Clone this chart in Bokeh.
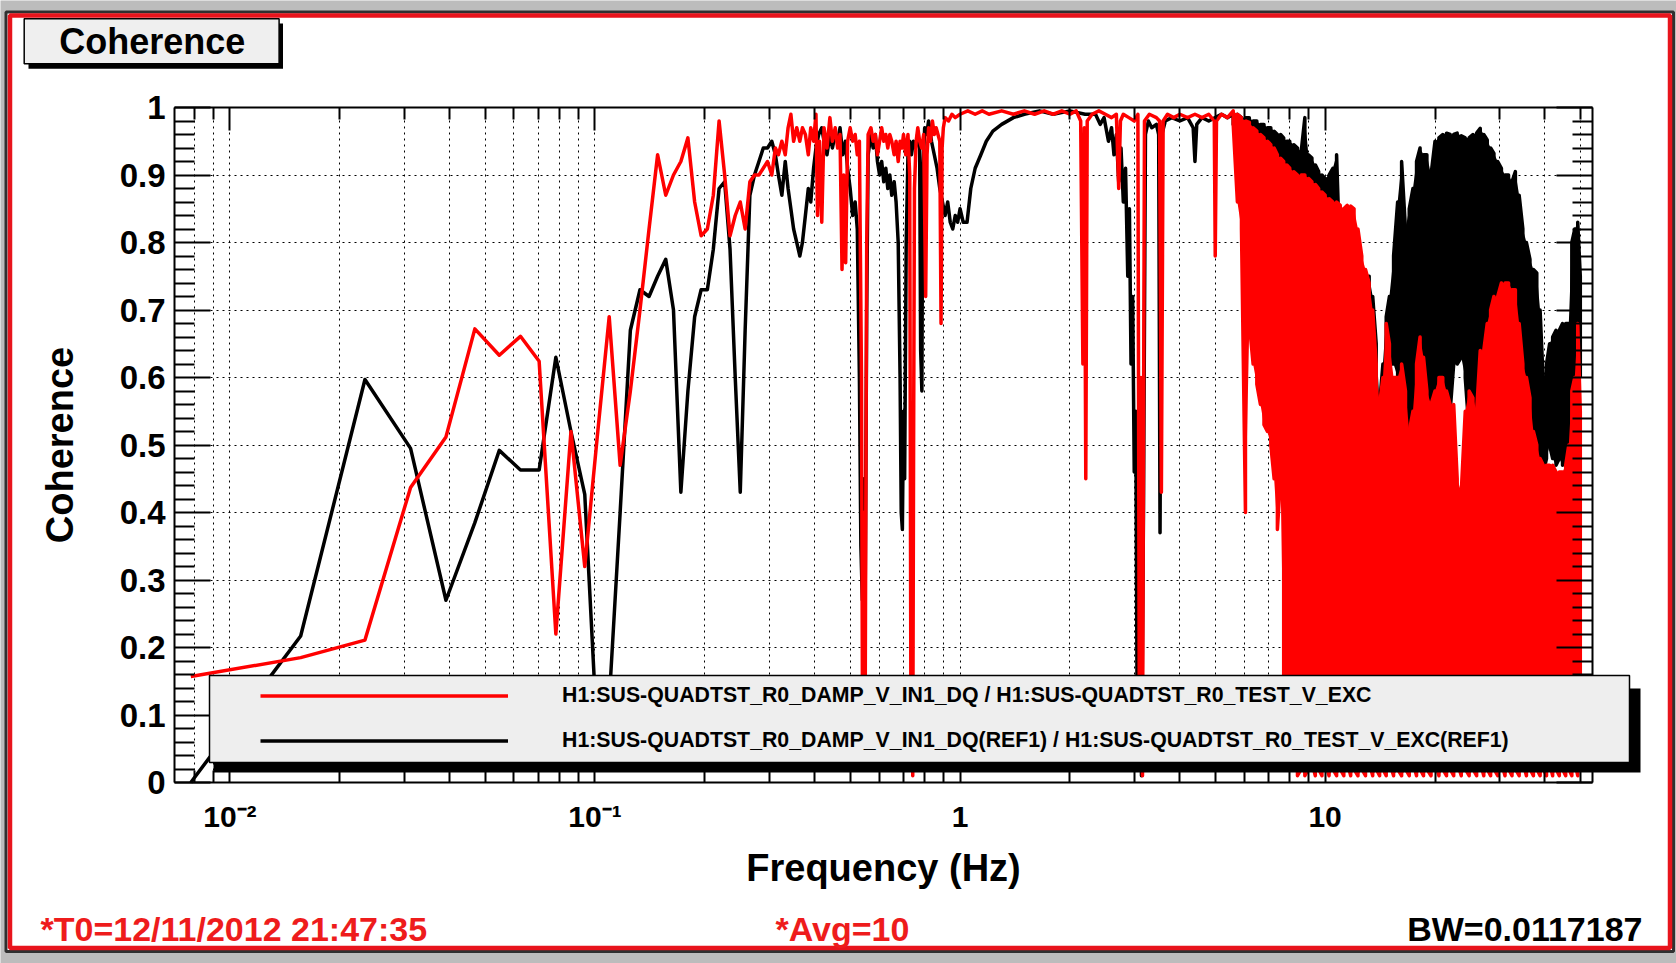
import math
from bokeh.plotting import figure
from bokeh.models import (Range1d, FixedTicker, LogAxis, LinearAxis, Label, Grid,
                          BoxAnnotation, Legend, LegendItem, CustomJSTickFormatter)
from bokeh.embed import file_html
from bokeh.resources import INLINE

# ---------------- data ----------------
# low-frequency bins (DTT grid, df = 1/128 Hz)
lf_f = [0.0078125, 0.015625, 0.0234375, 0.03125, 0.0390625, 0.046875, 0.0546875,
        0.0625, 0.0703125, 0.078125, 0.0859375, 0.09375, 0.1015625, 0.109375,
        0.1171875, 0.125, 0.1328125, 0.140625, 0.1484375, 0.15625, 0.1640625,
        0.171875, 0.1796875, 0.1875, 0.1953125, 0.203125, 0.2109375, 0.21875,
        0.2265625, 0.234375, 0.2421875, 0.25, 0.2578125, 0.265625, 0.2734375,
        0.28125, 0.2890625, 0.296875]
red_lf_c = [0.157, 0.185, 0.211, 0.437, 0.512, 0.672, 0.633, 0.661, 0.624, 0.22,
            0.52, 0.32, 0.515, 0.69, 0.47, 0.58, 0.70, 0.82, 0.93, 0.87, 0.90,
            0.92, 0.955, 0.86, 0.81, 0.82, 0.87, 0.98, 0.90, 0.81, 0.84, 0.86,
            0.82, 0.89, 0.90, 0.90, 0.91, 0.92]
blk_lf_c = [0.0, 0.217, 0.597, 0.495, 0.27, 0.385, 0.492, 0.463, 0.463, 0.63,
            0.52, 0.427, 0.06, 0.12, 0.40, 0.67, 0.73, 0.72, 0.75, 0.775, 0.70,
            0.43, 0.58, 0.69, 0.73, 0.73, 0.79, 0.88, 0.89, 0.79, 0.60, 0.43,
            0.67, 0.87, 0.90, 0.92, 0.94, 0.94]

# mid frequencies
red_mf_f = [0.305, 0.312, 0.318, 0.325, 0.332, 0.338, 0.344, 0.350, 0.357, 0.364,
            0.370, 0.377, 0.384, 0.390, 0.397, 0.403, 0.407, 0.412, 0.418, 0.424,
            0.432, 0.440, 0.447, 0.455, 0.462, 0.469, 0.475, 0.480, 0.486, 0.492,
            0.500, 0.508, 0.516, 0.523, 0.530, 0.537, 0.541, 0.545, 0.549, 0.555,
            0.560, 0.570, 0.578, 0.586, 0.594, 0.602, 0.610, 0.618, 0.626, 0.634,
            0.642, 0.650, 0.660, 0.668, 0.677, 0.685, 0.693, 0.700, 0.710, 0.720,
            0.728, 0.734, 0.738, 0.742, 0.746, 0.750, 0.758, 0.766, 0.775, 0.785,
            0.795, 0.805, 0.812, 0.820, 0.830, 0.840, 0.850, 0.860, 0.870, 0.880,
            0.887, 0.893, 0.900, 0.910, 0.930, 0.950, 0.970, 1.00, 1.05, 1.10,
            1.15, 1.20, 1.30, 1.40, 1.50, 1.60, 1.70, 1.80, 1.90, 2.00,
            2.08, 2.14, 2.17, 2.19, 2.21, 2.23, 2.30, 2.40, 2.50, 2.60,
            2.68, 2.72, 2.75, 2.80, 2.90, 3.00, 3.07, 3.10, 3.13, 3.16,
            3.20, 3.30, 3.45, 3.52, 3.56, 3.60, 3.70, 3.85, 4.00, 4.20,
            4.40, 4.60, 4.80, 4.97, 5.00, 5.04, 5.20, 5.40]
red_mf_c = [0.90, 0.94, 0.93, 0.95, 0.93, 0.97, 0.99, 0.95, 0.97, 0.95,
            0.97, 0.96, 0.93, 0.97, 0.95, 0.99, 0.84, 0.95, 0.83, 0.97,
            0.94, 0.985, 0.95, 0.97, 0.94, 0.96, 0.76, 0.90, 0.77, 0.95,
            0.97, 0.95, 0.96, 0.93, 0.95, 0.60, 0.02, 0.40, 0.03, 0.80,
            0.96, 0.97, 0.95, 0.96, 0.93, 0.95, 0.97, 0.95, 0.96, 0.94,
            0.96, 0.95, 0.93, 0.95, 0.92, 0.95, 0.94, 0.96, 0.93, 0.96,
            0.90, 0.02, 0.30, 0.01, 0.50, 0.88, 0.95, 0.97, 0.95, 0.94,
            0.96, 0.72, 0.93, 0.97, 0.95, 0.98, 0.96, 0.97, 0.96, 0.95,
            0.68, 0.94, 0.97, 0.985, 0.98, 0.99, 0.985, 0.99, 0.995, 0.99,
            0.995, 0.99, 0.995, 0.99, 0.995, 0.99, 0.995, 0.99, 0.995, 0.99,
            0.995, 0.98, 0.62, 0.97, 0.45, 0.98, 0.99, 0.995, 0.99, 0.985,
            0.99, 0.88, 0.98, 0.99, 0.985, 0.98, 0.99, 0.02, 0.60, 0.01,
            0.98, 0.99, 0.985, 0.98, 0.43, 0.98, 0.99, 0.985, 0.99, 0.985,
            0.99, 0.985, 0.99, 0.98, 0.78, 0.98, 0.99, 0.985]

blk_mf_f = [0.305, 0.312, 0.318, 0.325, 0.332, 0.338, 0.344, 0.350, 0.357, 0.364,
            0.370, 0.377, 0.384, 0.390, 0.397, 0.403, 0.410, 0.418, 0.424, 0.432,
            0.440, 0.447, 0.455, 0.462, 0.469, 0.477, 0.485, 0.492, 0.500, 0.508,
            0.516, 0.523, 0.530, 0.535, 0.540, 0.545, 0.550, 0.555, 0.560, 0.570,
            0.578, 0.586, 0.594, 0.602, 0.610, 0.618, 0.626, 0.634, 0.642, 0.650,
            0.660, 0.668, 0.677, 0.685, 0.690, 0.695, 0.700, 0.705, 0.712, 0.720,
            0.728, 0.736, 0.745, 0.755, 0.765, 0.775, 0.780, 0.786, 0.790, 0.800,
            0.810, 0.820, 0.835, 0.850, 0.865, 0.880, 0.895, 0.910, 0.925, 0.940,
            0.955, 0.970, 0.985, 1.000, 1.020, 1.045, 1.070, 1.100, 1.140, 1.180,
            1.230, 1.300, 1.400, 1.500, 1.650, 1.800, 2.000, 2.200, 2.350, 2.420,
            2.480, 2.550, 2.600, 2.640, 2.680, 2.720, 2.760, 2.800, 2.840, 2.880,
            2.910, 2.940, 2.970, 3.000, 3.030, 3.060, 3.100, 3.140, 3.180, 3.220,
            3.280, 3.350, 3.450, 3.500, 3.530, 3.570, 3.650, 3.800, 4.000, 4.200,
            4.350, 4.400, 4.450, 4.600, 4.800, 5.000, 5.200, 5.400]
blk_mf_c = [0.95, 0.93, 0.90, 0.87, 0.92, 0.88, 0.85, 0.82, 0.80, 0.78,
            0.80, 0.84, 0.88, 0.86, 0.91, 0.94, 0.96, 0.97, 0.95, 0.93,
            0.96, 0.94, 0.96, 0.95, 0.97, 0.93, 0.95, 0.91, 0.88, 0.84,
            0.86, 0.82, 0.60, 0.35, 0.27, 0.45, 0.30, 0.70, 0.93, 0.96,
            0.94, 0.96, 0.92, 0.90, 0.92, 0.89, 0.91, 0.88, 0.90, 0.87,
            0.89, 0.86, 0.80, 0.60, 0.40, 0.375, 0.55, 0.45, 0.80, 0.93,
            0.95, 0.93, 0.95, 0.94, 0.96, 0.94, 0.64, 0.58, 0.90, 0.97,
            0.96, 0.98, 0.95, 0.93, 0.91, 0.88, 0.86, 0.84, 0.86, 0.83,
            0.82, 0.84, 0.83, 0.85, 0.83, 0.83, 0.88, 0.91, 0.93, 0.95,
            0.965, 0.975, 0.985, 0.99, 0.995, 0.99, 0.995, 0.99, 0.99, 0.975,
            0.985, 0.95, 0.97, 0.93, 0.96, 0.89, 0.94, 0.86, 0.91, 0.75,
            0.85, 0.62, 0.72, 0.46, 0.55, 0.02, 0.30, 0.01, 0.40, 0.96,
            0.98, 0.97, 0.975, 0.96, 0.37, 0.96, 0.98, 0.985, 0.98, 0.985,
            0.97, 0.92, 0.975, 0.985, 0.98, 0.985, 0.99, 0.985]

# high frequencies: the trace oscillates between these envelopes
hf_f = [5.6, 5.75, 5.9, 6.05, 6.2, 6.35, 6.5, 6.65, 6.8, 6.95,
        7.1, 7.25, 7.4, 7.55, 7.7, 7.85, 8.0, 8.2, 8.4, 8.6,
        8.8, 9.0, 9.2, 9.4, 9.6, 9.8, 10.0, 10.25, 10.5, 10.75,
        11.0, 11.25, 11.5, 11.75, 12.0, 12.3, 12.6, 12.9, 13.2, 13.5,
        13.8, 14.1, 14.4, 14.7, 15.0, 15.4, 15.8, 16.2, 16.6, 17.0,
        17.4, 17.8, 18.2, 18.6, 19.0, 19.5, 20.0, 20.5, 21.0, 21.5,
        22.0, 22.5, 23.0, 23.6, 24.2, 24.8, 25.4, 26.0, 26.6, 27.2,
        27.8, 28.4, 29.0, 29.7, 30.4, 31.1, 31.8, 32.5, 33.2, 34.0,
        34.8, 35.6, 36.4, 37.2, 38.0, 38.8, 39.6, 40.4, 41.2, 42.0,
        42.9, 43.8, 44.7, 45.6, 46.5, 47.4, 48.3, 49.2, 50.0]
red_hf_hi = [0.995, 0.99, 0.985, 0.98, 0.978, 0.97, 0.965, 0.96, 0.955, 0.95,
             0.945, 0.94, 0.93, 0.925, 0.92, 0.915, 0.91, 0.905, 0.90, 0.90,
             0.90, 0.895, 0.89, 0.886, 0.88, 0.875, 0.87, 0.865, 0.86, 0.86,
             0.855, 0.85, 0.855, 0.854, 0.85, 0.82, 0.78, 0.76, 0.74, 0.70,
             0.62, 0.56, 0.60, 0.68, 0.65, 0.60, 0.60, 0.62, 0.58, 0.52,
             0.55, 0.62, 0.66, 0.63, 0.58, 0.56, 0.58, 0.60, 0.60, 0.58,
             0.56, 0.56, 0.45, 0.43, 0.55, 0.58, 0.57, 0.55, 0.64, 0.64,
             0.68, 0.70, 0.72, 0.72, 0.74, 0.74, 0.74, 0.73, 0.73, 0.68,
             0.62, 0.60, 0.57, 0.52, 0.50, 0.48, 0.47, 0.47, 0.47, 0.47,
             0.46, 0.46, 0.46, 0.47, 0.50, 0.58, 0.60, 0.68, 0.55]
red_hf_lo = [0.975, 0.86, 0.82, 0.40, 0.68, 0.62, 0.59, 0.56, 0.53, 0.52,
             0.50, 0.45, 0.375, 0.45, 0.16, 0.06, 0.02, 0.03, 0.01, 0.02,
             0.01, 0.02, 0.03, 0.01, 0.02, 0.01, 0.03, 0.01, 0.02, 0.01,
             0.02, 0.01, 0.03, 0.01, 0.02, 0.01, 0.02, 0.01, 0.03, 0.01,
             0.02, 0.01, 0.02, 0.01, 0.03, 0.01, 0.02, 0.01, 0.02, 0.01,
             0.03, 0.01, 0.02, 0.01, 0.02, 0.01, 0.03, 0.01, 0.02, 0.01,
             0.02, 0.01, 0.03, 0.01, 0.02, 0.01, 0.02, 0.01, 0.03, 0.01,
             0.02, 0.01, 0.02, 0.01, 0.03, 0.01, 0.02, 0.01, 0.02, 0.01,
             0.03, 0.01, 0.02, 0.01, 0.02, 0.01, 0.02, 0.01, 0.03, 0.01,
             0.02, 0.01, 0.02, 0.01, 0.02, 0.01, 0.03, 0.01, 0.02]
blk_hf_hi = [0.99, 0.99, 0.985, 0.985, 0.985, 0.98, 0.98, 0.975, 0.975, 0.97,
             0.97, 0.965, 0.96, 0.96, 0.955, 0.95, 0.95, 0.945, 0.94, 0.935,
             0.985, 0.93, 0.925, 0.915, 0.905, 0.90, 0.895, 0.90, 0.91, 0.93,
             0.76, 0.80, 0.85, 0.82, 0.80, 0.74, 0.70, 0.72, 0.75, 0.72,
             0.65, 0.56, 0.62, 0.69, 0.72, 0.78, 0.86, 0.92, 0.82, 0.85,
             0.88, 0.92, 0.94, 0.93, 0.93, 0.90, 0.95, 0.955, 0.96, 0.962,
             0.96, 0.96, 0.962, 0.958, 0.955, 0.955, 0.96, 0.962, 0.969, 0.96,
             0.952, 0.94, 0.932, 0.92, 0.91, 0.90, 0.90, 0.89, 0.905, 0.87,
             0.82, 0.80, 0.775, 0.76, 0.755, 0.70, 0.59, 0.62, 0.65, 0.66,
             0.67, 0.67, 0.68, 0.68, 0.68, 0.80, 0.82, 0.83, 0.75]
blk_hf_lo = [0.975, 0.97, 0.96, 0.95, 0.95, 0.94, 0.93, 0.93, 0.92, 0.92,
             0.91, 0.90, 0.89, 0.86, 0.79, 0.72, 0.76, 0.69, 0.80, 0.88,
             0.89, 0.88, 0.87, 0.86, 0.80, 0.74, 0.78, 0.70, 0.64, 0.74,
             0.70, 0.66, 0.72, 0.68, 0.66, 0.62, 0.58, 0.60, 0.58, 0.56,
             0.55, 0.50, 0.55, 0.60, 0.62, 0.62, 0.60, 0.58, 0.50, 0.45,
             0.45, 0.44, 0.42, 0.42, 0.40, 0.45, 0.50, 0.55, 0.55, 0.52,
             0.55, 0.62, 0.62, 0.63, 0.60, 0.52, 0.50, 0.52, 0.55, 0.58,
             0.60, 0.62, 0.62, 0.65, 0.62, 0.60, 0.58, 0.60, 0.62, 0.60,
             0.55, 0.50, 0.48, 0.46, 0.45, 0.45, 0.46, 0.48, 0.50, 0.48,
             0.47, 0.48, 0.47, 0.48, 0.50, 0.55, 0.60, 0.62, 0.60]

# axis ticks and labels
x_major = [0.01, 0.1, 1.0, 10.0]
x_major_labels = ["10\u207b\u00b2", "10\u207b\u00b9", "1", "10"]
x_minor = [0.008, 0.009, 0.02, 0.03, 0.04, 0.05, 0.06, 0.07, 0.08, 0.09,
           0.2, 0.3, 0.4, 0.5, 0.6, 0.7, 0.8, 0.9,
           2.0, 3.0, 4.0, 5.0, 6.0, 7.0, 8.0, 9.0, 20.0, 30.0, 40.0, 50.0]
y_major = [0.0, 0.1, 0.2, 0.3, 0.4, 0.5, 0.6, 0.7, 0.8, 0.9, 1.0]
y_major_labels = ["0", "0.1", "0.2", "0.3", "0.4", "0.5", "0.6", "0.7", "0.8", "0.9", "1"]
y_minor = [round(i * 0.02, 2) for i in range(51) if i % 5]

red_label = "H1:SUS-QUADTST_R0_DAMP_V_IN1_DQ / H1:SUS-QUADTST_R0_TEST_V_EXC"
blk_label = "H1:SUS-QUADTST_R0_DAMP_V_IN1_DQ(REF1) / H1:SUS-QUADTST_R0_TEST_V_EXC(REF1)"


def zigzag(f, hi, lo):
    xs, ys = [], []
    for i in range(len(f)):
        xs += [f[i], f[i]]
        ys += [hi[i], lo[i]] if i % 2 == 0 else [lo[i], hi[i]]
    return xs, ys


rz_x, rz_y = zigzag(hf_f, red_hf_hi, red_hf_lo)
bz_x, bz_y = zigzag(hf_f, blk_hf_hi, blk_hf_lo)
red_x = lf_f + red_mf_f + rz_x
red_y = red_lf_c + red_mf_c + rz_y
blk_x = lf_f + blk_mf_f + bz_x
blk_y = blk_lf_c + blk_mf_c + bz_y

# ---------------- layout ----------------
W, H = 1676, 963
FX0, FX1, FY0, FY1 = 174, 1592, 107, 782      # plot frame in page pixels
XMIN, XMAX, YMIN, YMAX = 0.00705, 54.0, 0.0, 1.0
dec = (FX1 - FX0) / (math.log10(XMAX) - math.log10(XMIN))
ppu = (FY1 - FY0) / (YMAX - YMIN)
x_start = 10 ** (math.log10(XMIN) - FX0 / dec)
x_end = 10 ** (math.log10(XMAX) + (W - FX1) / dec)
y_start = YMIN - (H - FY1) / ppu
y_end = YMAX + FY0 / ppu

FONT = "Liberation Sans"
RED = "#ff0000"

p = figure(width=W, height=H, x_axis_type="log",
           x_range=Range1d(x_start, x_end), y_range=Range1d(y_start, y_end),
           output_backend="svg", toolbar_location=None, min_border=0)
p.background_fill_color = "#bcbcbc"
p.border_fill_color = "#bcbcbc"
p.outline_line_color = None

xt = FixedTicker(ticks=x_major, minor_ticks=x_minor)
yt = FixedTicker(ticks=y_major, minor_ticks=y_minor)
blank = CustomJSTickFormatter(code="return ''")


def pbox(x0, x1, y0, y1, **kw):
    # box given in page pixels (top-left origin)
    kw.setdefault("line_alpha", 1.0)
    kw.setdefault("fill_alpha", 1.0)
    return BoxAnnotation(left=x0, right=x1, top=H - y0, bottom=H - y1,
                         left_units="screen", right_units="screen",
                         top_units="screen", bottom_units="screen", **kw)


# white sheet inside the window frame, beneath grid and data
page_box = pbox(5.5, 1673, 11.5, 951, fill_color="white",
                line_color="#303030", line_width=3, level="underlay")
p.center.insert(0, page_box)


def style_axis(ax, major_in, minor_in):
    ax.axis_line_color = "black"
    ax.axis_line_width = 2
    ax.major_tick_in = major_in
    ax.major_tick_out = 0
    ax.minor_tick_in = minor_in
    ax.minor_tick_out = 0
    ax.major_tick_line_width = 2
    ax.minor_tick_line_width = 2
    ax.major_tick_line_color = "black"
    ax.minor_tick_line_color = "black"


xa = p.xaxis[0]
xa.ticker = xt
xa.fixed_location = YMIN
xa.bounds = (XMIN, XMAX)
xa.major_label_overrides = dict(zip(x_major, x_major_labels))
xa.major_label_text_font = FONT
xa.major_label_text_font_style = "bold"
xa.major_label_text_font_size = "30px"
xa.major_label_text_color = "black"
xa.major_label_standoff = 17
xa.axis_label = "Frequency (Hz)"
xa.axis_label_text_font = FONT
xa.axis_label_text_font_style = "bold"
xa.axis_label_text_font_size = "38px"
xa.axis_label_text_color = "black"
xa.axis_label_standoff = 11
style_axis(xa, 23, 12)

ya = p.yaxis[0]
ya.ticker = yt
ya.fixed_location = XMIN
ya.bounds = (YMIN, YMAX)
ya.major_label_overrides = dict(zip(y_major, y_major_labels))
ya.major_label_text_font = FONT
ya.major_label_text_font_style = "bold"
ya.major_label_text_font_size = "33px"
ya.major_label_text_color = "black"
ya.major_label_standoff = 9
ya.axis_label = "Coherence"
ya.axis_label_text_font = FONT
ya.axis_label_text_font_style = "bold"
ya.axis_label_text_font_size = "38px"
ya.axis_label_text_color = "black"
ya.axis_label_standoff = 36
style_axis(ya, 36, 20)

top_ax = LogAxis(ticker=xt, formatter=blank, fixed_location=YMAX, bounds=(XMIN, XMAX))
style_axis(top_ax, 23, 12)
p.add_layout(top_ax, "above")
right_ax = LinearAxis(ticker=yt, formatter=blank, fixed_location=XMAX, bounds=(YMIN, YMAX))
style_axis(right_ax, 36, 20)
p.add_layout(right_ax, "right")

# dotted grid limited to the frame
if "cross_bounds" in Grid.properties():
    p.xgrid.ticker = xt
    p.xgrid.bounds = (XMIN, XMAX)
    p.xgrid.cross_bounds = (YMIN, YMAX)
    p.xgrid.grid_line_color = "black"
    p.xgrid.grid_line_dash = "2 4"
    p.xgrid.grid_line_width = 1
    p.xgrid.minor_grid_line_color = "black"
    p.xgrid.minor_grid_line_dash = "2 4"
    p.xgrid.minor_grid_line_width = 1
    p.ygrid.ticker = yt
    p.ygrid.bounds = (YMIN, YMAX)
    p.ygrid.cross_bounds = (XMIN, XMAX)
    p.ygrid.grid_line_color = "black"
    p.ygrid.grid_line_dash = "2 4"
    p.ygrid.grid_line_width = 1
    p.ygrid.minor_grid_line_color = None
else:
    p.xgrid.visible = False
    p.ygrid.visible = False
    gx = x_major + x_minor
    p.segment(x0=gx, y0=[YMIN] * len(gx), x1=gx, y1=[YMAX] * len(gx),
              line_color="black", line_dash="2 4", line_width=1)
    p.segment(x0=[XMIN] * len(y_major), y0=y_major, x1=[XMAX] * len(y_major), y1=y_major,
              line_color="black", line_dash="2 4", line_width=1)

# data: black (reference) below, red (current) on top
p.varea(x=hf_f, y1=blk_hf_lo, y2=blk_hf_hi, fill_color="black")
r_blk = p.line(blk_x, blk_y, line_color="black", line_width=3.5, line_join="round")
p.varea(x=hf_f, y1=red_hf_lo, y2=red_hf_hi, fill_color=RED)
r_red = p.line(red_x, red_y, line_color=RED, line_width=3.5, line_join="round")

# legend shadow + box
p.add_layout(pbox(213, 1640, 688, 772, fill_color="black", line_alpha=0))
p.add_layout(pbox(209, 1629, 675, 762, fill_color="#eeeeee",
                  line_color="black", line_width=1.5))
legend = Legend(items=[LegendItem(label=red_label, renderers=[r_red]),
                       LegendItem(label=blk_label, renderers=[r_blk])],
                location=(260, H - 757.5), padding=0, margin=0, spacing=10,
                glyph_width=248, glyph_height=35, label_height=35, label_standoff=54,
                label_text_font=FONT, label_text_font_size="21.3px",
                label_text_font_style="bold", label_text_color="black",
                background_fill_alpha=0, border_line_alpha=0)
p.add_layout(legend)

# title box with shadow
p.add_layout(pbox(28, 282.5, 23, 68.3, fill_color="black", line_alpha=0))
p.add_layout(pbox(23.7, 278.6, 18.3, 63.3, fill_color="#efefef",
                  line_color="black", line_width=1.5))
p.add_layout(Label(x=151.7, y=H - 41.3, x_units="screen", y_units="screen",
                   text="Coherence", text_font=FONT, text_font_size="36px",
                   text_font_style="bold", text_color="black",
                   text_align="center", text_baseline="middle"))

# red window border
p.add_layout(pbox(9.5, 1669.5, 15, 947.5, fill_alpha=0, line_color="#e8141c",
                  line_width=4.5))

# footer texts
FOOT_Y = H - 928
p.add_layout(Label(x=40, y=FOOT_Y, x_units="screen", y_units="screen",
                   text="*T0=12/11/2012 21:47:35", text_font=FONT, text_font_size="34px",
                   text_font_style="bold", text_color="#ee1c1c",
                   text_align="left", text_baseline="middle"))
p.add_layout(Label(x=775, y=FOOT_Y, x_units="screen", y_units="screen",
                   text="*Avg=10", text_font=FONT, text_font_size="34px",
                   text_font_style="bold", text_color="#ee1c1c",
                   text_align="left", text_baseline="middle"))
p.add_layout(Label(x=1642, y=FOOT_Y, x_units="screen", y_units="screen",
                   text="BW=0.0117187", text_font=FONT, text_font_size="34px",
                   text_font_style="bold", text_color="black",
                   text_align="right", text_baseline="middle"))

open("out.html", "w").write(file_html(p, INLINE))
